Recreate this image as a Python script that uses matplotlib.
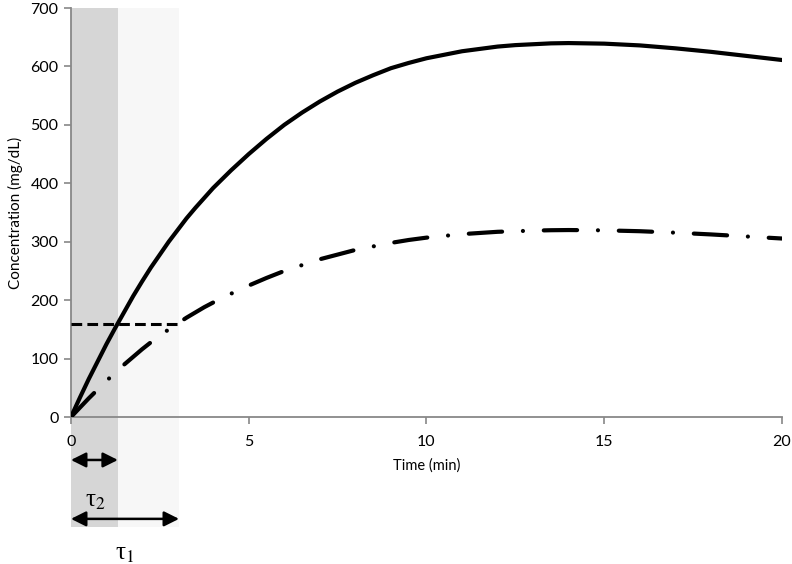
import matplotlib
matplotlib.use('Agg')
from matplotlib import pyplot as plt
from matplotlib.patches import Rectangle
from matplotlib.transforms import blended_transform_factory

# values
t = [0, 0.25, 0.5, 0.75, 1, 1.25, 1.5, 1.75, 2, 2.25, 2.5, 2.75, 3, 3.25, 3.5, 3.75,
     4, 4.25, 4.5, 5, 5.5, 6, 6.5, 7, 7.5, 8, 8.5, 9, 9.5, 10, 10.5, 11, 11.5, 12,
     12.5, 13, 13.5, 14, 15, 16, 17, 18, 19, 20]
conc_full = [0, 33, 65, 95, 125, 153, 180, 207, 232, 256, 278, 300, 320, 340, 358, 375,
             392, 407, 422, 450, 476, 500, 521, 540, 557, 572, 585, 597, 606, 614, 620, 626,
             630, 634, 636.5, 638, 639.5, 640, 639, 636, 631, 625, 618, 611]
conc_half = [0, 16, 32, 47, 62, 76, 90, 103, 116, 128, 139, 150, 160, 170, 179, 188,
             196, 204, 211, 225, 238, 250, 260, 270, 278, 286, 292, 298, 303, 307, 310, 313,
             315, 317, 318, 319, 319.7, 320, 319.5, 318, 315.5, 312.5, 309, 305.5]
tau2 = 1.32
tau1 = 3.04
threshold = 160
xticks = [0, 5, 10, 15, 20]
yticks = [0, 100, 200, 300, 400, 500, 600, 700]

plt.rcParams['font.family'] = ['Lato', 'DejaVu Sans']
plt.rcParams['mathtext.fontset'] = 'stix'

fig = plt.figure(figsize=(7.92, 5.64), dpi=100)
ax = fig.add_axes([0.0896, 0.2606, 0.8978, 0.7252])

# shaded windows reaching below the axis
trans = blended_transform_factory(ax.transData, ax.transAxes)
ax.add_patch(Rectangle((0, -0.269), tau2, 1.269, transform=trans, color='#d6d6d6',
                       lw=0, clip_on=False, zorder=0))
ax.add_patch(Rectangle((tau2, -0.269), tau1 - tau2, 1.269, transform=trans, color='#f7f7f7',
                       lw=0, clip_on=False, zorder=0))

ax.plot(t, conc_full, color='black', lw=3.0, solid_capstyle='round', zorder=3)
ax.plot(t, conc_half, color='black', lw=3.0, dashes=(8.0, 5.0, 0.01, 5.0),
        dash_capstyle='round', zorder=3)
ax.plot([0, tau1], [threshold, threshold], color='black', lw=2.2, dashes=(3.5, 1.7), zorder=3)

# interval arrows
for y_ax, x_end in [(-0.105, tau2), (-0.249, tau1)]:
    ax.annotate('', xy=(x_end, y_ax), xytext=(0, y_ax), xycoords=trans, textcoords=trans,
                arrowprops=dict(arrowstyle='<|-|>,head_length=0.6,head_width=0.3',
                                color='black', lw=1.8, mutation_scale=15,
                                shrinkA=0, shrinkB=0),
                annotation_clip=False)
ax.text(0.68, -0.205, 'τ$_2$', transform=trans, ha='center', va='center', fontsize=18,
        family='Liberation Serif')
ax.text(1.52, -0.335, 'τ$_1$', transform=trans, ha='center', va='center', fontsize=18,
        family='Liberation Serif')

ax.set_xlim(0, 20)
ax.set_ylim(0, 700)
ax.set_xticks(xticks)
ax.set_yticks(yticks)
for s in ['top', 'right']:
    ax.spines[s].set_visible(False)
for s in ['left', 'bottom']:
    ax.spines[s].set_color('#888888')
    ax.spines[s].set_linewidth(1.3)
ax.tick_params(colors='#888888', length=5, width=1.2, labelcolor='black', labelsize=11.5)
ax.tick_params(axis='x', pad=8)
ax.tick_params(axis='y', pad=4)
ax.set_xlabel('Time (min)', fontsize=10.5, labelpad=7)
ax.set_ylabel('Concentration (mg/dL)', fontsize=11, labelpad=5)

fig.savefig('out.png', dpi=100)
